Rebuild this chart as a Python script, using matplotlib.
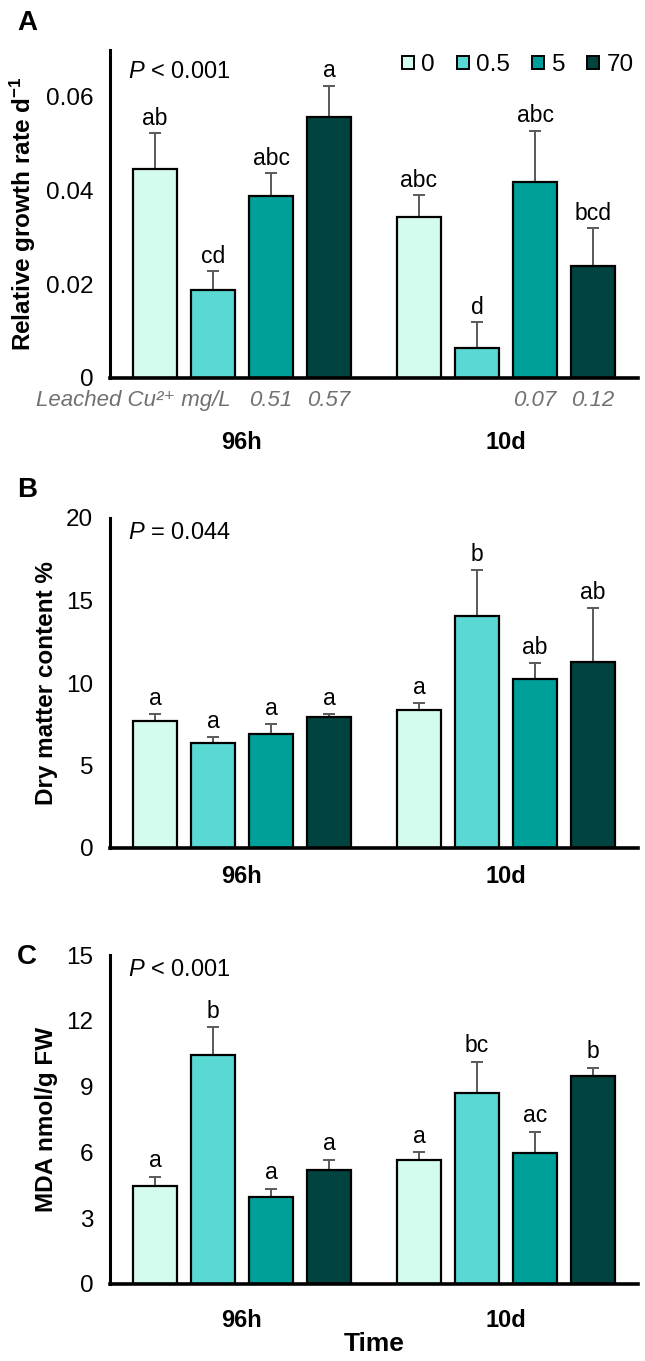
import matplotlib
matplotlib.use("Agg")
import matplotlib.pyplot as plt
from matplotlib.patches import Patch
import numpy as np

plt.rcParams['font.family'] = ['Liberation Sans', 'DejaVu Sans']
plt.rcParams['mathtext.fontset'] = 'custom'
plt.rcParams['mathtext.rm'] = 'Liberation Sans'
plt.rcParams['mathtext.it'] = 'Liberation Sans:italic'
plt.rcParams['mathtext.bf'] = 'Liberation Sans:bold'

groups = ['96h', '10d']
doses = ['0', '0.5', '5', '70']
colors = ['#d4fcee', '#5ad8d4', '#00a09a', '#00433f']

# panel A: relative growth rate (mean, SE) per group x dose
rgr_mean = [[0.0446, 0.0187, 0.0388, 0.0557],
            [0.0343, 0.0065, 0.0418, 0.0240]]
rgr_err = [[0.0076, 0.0041, 0.0049, 0.0067],
           [0.0048, 0.0054, 0.0110, 0.0080]]
rgr_letters = [['ab', 'cd', 'abc', 'a'], ['abc', 'd', 'abc', 'bcd']]
leached = [['', '', '0.51', '0.57'], ['', '', '0.07', '0.12']]

# panel B: dry matter content %
dmc_mean = [[7.71, 6.34, 6.89, 7.96],
            [8.36, 14.06, 10.26, 11.29]]
dmc_err = [[0.41, 0.41, 0.63, 0.18],
           [0.45, 2.79, 0.97, 3.24]]
dmc_letters = [['a', 'a', 'a', 'a'], ['a', 'b', 'ab', 'ab']]

# panel C: MDA nmol/g FW
mda_mean = [[4.47, 10.44, 3.97, 5.20],
            [5.65, 8.71, 5.96, 9.48]]
mda_err = [[0.42, 1.28, 0.38, 0.47],
           [0.37, 1.43, 0.99, 0.38]]
mda_letters = [['a', 'b', 'a', 'a'], ['a', 'bc', 'ac', 'b']]

W, H = 645, 1361
fig = plt.figure(figsize=(W / 100, H / 100), dpi=100)

step = 0.22
width = 0.168
offsets = (np.arange(4) - 1.5) * step


def draw_panel(ax, mean, err, letters, ymax, yticks, ylabel, ptext, pty, tickpad, letter_pad):
    for g in range(2):
        for i in range(4):
            x = g + offsets[i]
            ax.bar(x, mean[g][i], width, color=colors[i], edgecolor='black', linewidth=1.6, zorder=2)
            ax.errorbar(x, mean[g][i], yerr=[[0], [err[g][i]]], color='#595959',
                        elinewidth=1.4, capsize=4.5, capthick=1.4, zorder=1)
            ax.text(x, mean[g][i] + err[g][i] + letter_pad, letters[g][i],
                    ha='center', va='bottom', fontsize=16.5)
    ax.set_xlim(-0.5, 1.5)
    ax.set_ylim(0, ymax)
    ax.set_yticks(yticks)
    ax.set_xticks([0, 1])
    ax.set_xticklabels(groups, fontsize=17, fontweight='bold')
    ax.tick_params(axis='y', length=0, labelsize=17.5, pad=12)
    ax.tick_params(axis='x', length=0, pad=tickpad)
    for s in ['top', 'right']:
        ax.spines[s].set_visible(False)
    ax.spines['left'].set_linewidth(2.2)
    ax.spines['bottom'].set_linewidth(2.6)
    ax.set_ylabel(ylabel, fontsize=17.5, fontweight='bold', labelpad=6)
    ax.text(0.034, pty, ptext, transform=ax.transAxes, fontsize=17, va='center', ha='left')


def fig_axes(left_px, right_px, top_px, bottom_px):
    return fig.add_axes([left_px / W, 1 - bottom_px / H,
                         (right_px - left_px) / W, (bottom_px - top_px) / H])


axA = fig_axes(110, 638, 50, 378)
draw_panel(axA, rgr_mean, rgr_err, rgr_letters, 0.07, [0, 0.02, 0.04, 0.06],
           r'Relative growth rate d$^{\mathbf{-1}}$', r'$\mathit{P}$ < 0.001', 0.933, 38, 0.0007)
axA.set_yticklabels(['0', '0.02', '0.04', '0.06'])
for g in range(2):
    for i in range(4):
        if leached[g][i]:
            axA.text(g + offsets[i], -0.069, leached[g][i], transform=axA.get_xaxis_transform(),
                     ha='center', va='center', fontsize=16, style='italic', color='#707070')
axA.text(0.228, -0.069, 'Leached Cu²⁺ mg/L', transform=axA.transAxes,
         ha='right', va='center', fontsize=16, style='italic', color='#707070')
handles = [Patch(facecolor=c, edgecolor='black', linewidth=1.4) for c in colors]
axA.legend(handles, doses, loc='center right', bbox_to_anchor=(1.01, 0.954), ncol=4,
           frameon=False, fontsize=17.5, handlelength=0.5, handleheight=0.5,
           handletextpad=0.3, columnspacing=0.9, borderaxespad=0)

axB = fig_axes(110, 638, 518, 848)
draw_panel(axB, dmc_mean, dmc_err, dmc_letters, 20, [0, 5, 10, 15, 20],
           'Dry matter content %', r'$\mathit{P}$ = 0.044', 0.955, 12, 0.25)

axC = fig_axes(110, 638, 955, 1284)
draw_panel(axC, mda_mean, mda_err, mda_letters, 15, [0, 3, 6, 9, 12, 15],
           'MDA nmol/g FW', r'$\mathit{P}$ < 0.001', 0.954, 18, 0.2)
axC.set_xlabel('Time', fontsize=19, fontweight='bold', labelpad=0)

for lab, y in [('A', 23), ('B', 490), ('C', 957)]:
    fig.text(27 / W, 1 - y / H, lab, fontsize=20, fontweight='bold', ha='center', va='center')

fig.savefig('out.png', dpi=100)
